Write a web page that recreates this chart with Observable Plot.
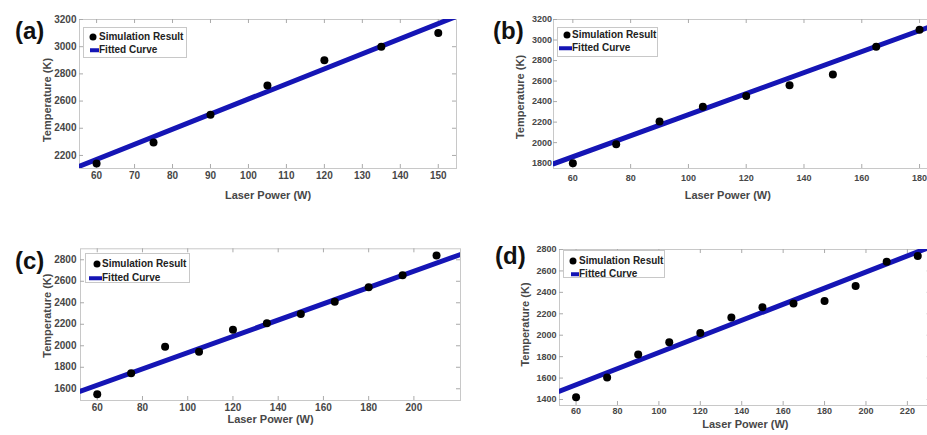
<!DOCTYPE html>
<html>
<head>
<meta charset="utf-8">
<script src="https://cdn.jsdelivr.net/npm/d3@7"></script>
<script src="https://cdn.jsdelivr.net/npm/@observablehq/plot@0.6"></script>
<style>
  html, body { margin: 0; padding: 0; background: #fff; }
  body { width: 927px; height: 435px; overflow: hidden; position: relative; font-family: "Liberation Sans", Arial, sans-serif; }
  .panel { position: absolute; }
  .panel svg { max-width: none !important; display: block; }
  .plabel { position: absolute; font: bold 24px "Liberation Sans", Arial, sans-serif; color: #111; line-height: 1; }
  .legend { position: absolute; border: 1px solid #c8c8c8; background: #fff; box-sizing: border-box; }
  .legend .item { position: absolute; font: bold 10px "Liberation Sans", Arial, sans-serif; color: #222; line-height: 12px; white-space: nowrap; transform: translateY(-50%); }
  .legend .dot { position: absolute; width: 7px; height: 7px; border-radius: 50%; background: #000; transform: translate(-50%, -50%); }
  .legend .ln { position: absolute; height: 3.5px; background: #1515b5; transform: translateY(-50%); }
</style>
</head>
<body>
<script>
// ---- data ----
const powerA = [60, 75, 90, 105, 120, 135, 150];
const tempA  = [2140, 2295, 2500, 2715, 2900, 3000, 3100];
const fitPowerA = [55.5, 154.8];
const fitTempA  = [2121, 3223];
const xTicksA = [60, 70, 80, 90, 100, 110, 120, 130, 140, 150];
const yTicksA = [2200, 2400, 2600, 2800, 3000, 3200];

const powerB = [60, 75, 90, 105, 120, 135, 150, 165, 180];
const tempB  = [1800, 1985, 2205, 2350, 2455, 2560, 2665, 2935, 3100];
const fitPowerB = [53.3, 185];
const fitTempB  = [1794, 3144];
const xTicksB = [60, 80, 100, 120, 140, 160, 180];
const yTicksB = [1800, 2000, 2200, 2400, 2600, 2800, 3000, 3200];

const powerC = [60, 75, 90, 105, 120, 135, 150, 165, 180, 195, 210];
const tempC  = [1550, 1745, 1990, 1945, 2150, 2210, 2295, 2410, 2545, 2655, 2840];
const fitPowerC = [52.6, 220.6];
const fitTempC  = [1578, 2849];
const xTicksC = [60, 80, 100, 120, 140, 160, 180, 200];
const yTicksC = [1600, 1800, 2000, 2200, 2400, 2600, 2800];

const powerD = [60, 75, 90, 105, 120, 135, 150, 165, 180, 195, 210, 225];
const tempD  = [1420, 1605, 1820, 1935, 2020, 2165, 2260, 2295, 2320, 2460, 2685, 2740];
const fitPowerD = [52, 231.5];
const fitTempD  = [1477, 2827];
const xTicksD = [60, 80, 100, 120, 140, 160, 180, 200, 220];
const yTicksD = [1400, 1600, 1800, 2000, 2200, 2400, 2600, 2800];

const panelLabels = ["(a)", "(b)", "(c)", "(d)"];
const legendLabels = ["Simulation Result", "Fitted Curve"];
const xTitle = "Laser Power (W)";
const yTitle = "Temperature (K)";

// ---- layout ----
const panels = [
  {x: powerA, y: tempA, fx: fitPowerA, fy: fitTempA, xt: xTicksA, yt: yTicksA,
   left: 0, top: 0, width: 470, height: 210, ml: 79, mr: 14, mt: 19, mb: 42,
   xd: [55.5, 154.8], yd: [2104, 3200], xfs: 10, yfs: 10, xpad: 3, ypad: 3,
   xtdx: 0, xtdy: 27, ytdx: -32, ytdy: 6,
   lab: {l: 15, t: 19}, leg: {box: [83, 27, 104, 31], dot: [9, 9], tx: 15, ln: [6, 15], rows: [9, 22]}},
  {x: powerB, y: tempB, fx: fitPowerB, fy: fitTempB, xt: xTicksB, yt: yTicksB,
   left: 460, top: 0, width: 490, height: 210, ml: 93, mr: 16.5, mt: 19, mb: 42,
   xd: [53.3, 185], yd: [1748, 3200], xfs: 9, yfs: 9, xpad: 6, ypad: 1.5,
   xtdx: -16, xtdy: 27, ytdx: -33, ytdy: 3,
   lab: {l: 493, t: 19}, leg: {box: [557, 27, 101, 30], dot: [9, 7], tx: 14, ln: [1, 14], rows: [7, 20]}},
  {x: powerC, y: tempC, fx: fitPowerC, fy: fitTempC, xt: xTicksC, yt: yTicksC,
   left: 0, top: 225, width: 470, height: 210, ml: 80, mr: 10, mt: 23.3, mb: 35,
   xd: [52.6, 220.6], yd: [1491, 2902], xfs: 10, yfs: 10, xpad: 3, ypad: 4,
   xtdx: 0, xtdy: 19, ytdx: -33, ytdy: -9,
   lab: {l: 15, t: 249}, leg: {box: [85, 253, 105, 30], dot: [11, 10], tx: 16, ln: [3, 16], rows: [10, 24]}},
  {x: powerD, y: tempD, fx: fitPowerD, fy: fitTempD, xt: xTicksD, yt: yTicksD,
   left: 460, top: 225, width: 490, height: 210, ml: 99, mr: 19.3, mt: 24, mb: 30,
   xd: [52, 231.5], yd: [1344, 2800], xfs: 9, yfs: 9, xpad: 2, ypad: 3,
   xtdx: 0, xtdy: 18.5, ytdx: -34, ytdy: -3,
   lab: {l: 495, t: 244}, leg: {box: [563, 250, 102, 28], dot: [9, 10], tx: 15, ln: [7, 15], rows: [10, 23]}}
];

const FONT = "'Liberation Sans', Arial, sans-serif";
const fmt = d3.format("d");

panels.forEach((c, i) => {
  const pts = c.x.map((x, j) => ({x, y: c.y[j]}));
  const fit = c.fx.map((x, j) => ({x, y: c.fy[j]}));
  const ph = c.height - c.mt - c.mb;
  const pw = c.width - c.ml - c.mr;
  const chart = Plot.plot({
    width: c.width, height: c.height,
    marginLeft: c.ml, marginRight: c.mr, marginTop: c.mt, marginBottom: c.mb,
    x: {domain: c.xd}, y: {domain: c.yd},
    style: {fontFamily: FONT, background: "transparent", overflow: "visible", maxWidth: "none"},
    marks: [
      Plot.frame({stroke: "#c8c8c8"}),
      Plot.ruleX(c.xt, {x: d => d, insetTop: ph - 4, stroke: "#aaa"}),
      Plot.ruleX(c.xt, {x: d => d, insetBottom: ph - 4, stroke: "#aaa"}),
      Plot.ruleY(c.yt, {y: d => d, insetRight: pw - 4, stroke: "#aaa"}),
      Plot.ruleY(c.yt, {y: d => d, insetLeft: pw - 4, stroke: "#aaa"}),
      Plot.axisX({ticks: c.xt, tickFormat: fmt, tickSize: 0, tickPadding: c.xpad, fontSize: c.xfs, fontWeight: "bold", fill: "#474747", label: null}),
      Plot.axisY({ticks: c.yt, tickFormat: fmt, tickSize: 0, tickPadding: c.ypad, fontSize: c.yfs, fontWeight: "bold", fill: "#474747", label: null}),
      Plot.line(fit, {x: "x", y: "y", stroke: "#1515b5", strokeWidth: 5, clip: true}),
      Plot.dot(pts, {x: "x", y: "y", r: 4, fill: "#000"}),
      Plot.text([xTitle], {text: d => d, frameAnchor: "bottom", textAnchor: "middle", dx: c.xtdx, dy: c.xtdy, fontSize: 11, fontWeight: "bold", fill: "#474747", lineAnchor: "middle"}),
      Plot.text([yTitle], {text: d => d, frameAnchor: "left", textAnchor: "middle", rotate: -90, dx: c.ytdx, dy: c.ytdy, fontSize: 11, fontWeight: "bold", fill: "#474747", lineAnchor: "middle"})
    ]
  });
  const wrap = document.createElement("div");
  wrap.className = "panel";
  wrap.style.left = c.left + "px";
  wrap.style.top = c.top + "px";
  wrap.style.width = c.width + "px";
  wrap.style.height = c.height + "px";
  wrap.appendChild(chart);
  document.body.appendChild(wrap);

  const lab = document.createElement("div");
  lab.className = "plabel";
  lab.style.left = c.lab.l + "px";
  lab.style.top = c.lab.t + "px";
  lab.textContent = panelLabels[i];
  document.body.appendChild(lab);

  const L = c.leg;
  const leg = document.createElement("div");
  leg.className = "legend";
  leg.style.left = L.box[0] + "px"; leg.style.top = L.box[1] + "px";
  leg.style.width = L.box[2] + "px"; leg.style.height = L.box[3] + "px";
  const dot = document.createElement("div");
  dot.className = "dot"; dot.style.left = L.dot[0] + "px"; dot.style.top = L.dot[1] + "px";
  const t1 = document.createElement("div");
  t1.className = "item"; t1.style.left = L.tx + "px"; t1.style.top = L.rows[0] + "px";
  t1.textContent = legendLabels[0];
  const ln = document.createElement("div");
  ln.className = "ln"; ln.style.left = L.ln[0] + "px"; ln.style.width = (L.ln[1] - L.ln[0]) + "px"; ln.style.top = L.rows[1] + "px";
  const t2 = document.createElement("div");
  t2.className = "item"; t2.style.left = L.tx + "px"; t2.style.top = L.rows[1] + "px";
  t2.textContent = legendLabels[1];
  leg.append(dot, t1, ln, t2);
  document.body.appendChild(leg);
});
</script>
</body>
</html>
